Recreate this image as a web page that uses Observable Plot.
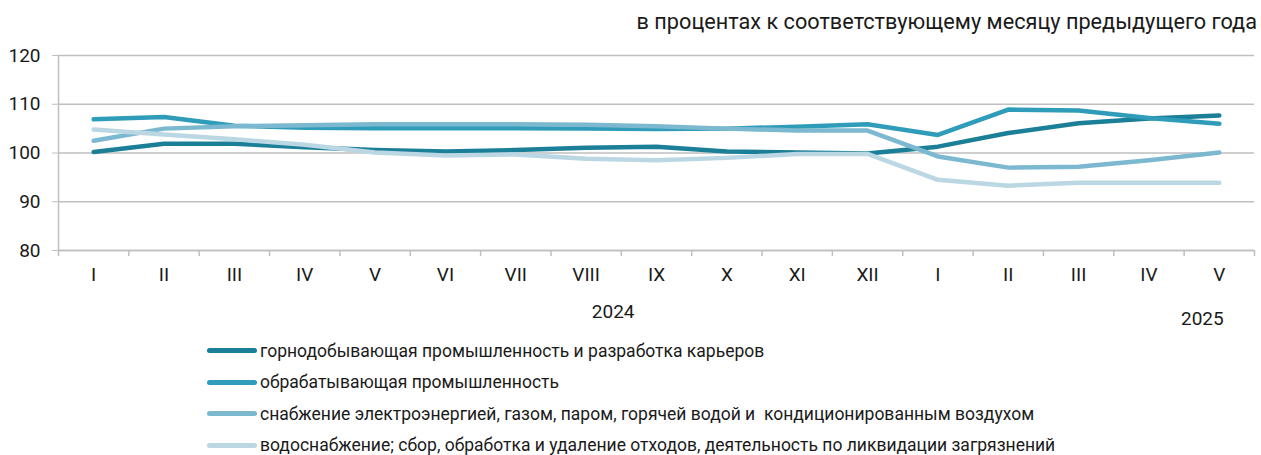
<!DOCTYPE html>
<html><head><meta charset="utf-8">
<script src="https://cdn.jsdelivr.net/npm/d3@7"></script>
<script src="https://cdn.jsdelivr.net/npm/@observablehq/plot@0.6"></script>
<style>
body{margin:0;background:#fff;font-family:Roboto,sans-serif;color:#1a1a1a;width:1261px;overflow:hidden}
#title{height:40px;text-align:right;font-size:21.7px;line-height:43px;padding-right:4px;box-sizing:border-box;white-space:nowrap}
#chart svg{display:block}
#legend{padding-left:207px}
.row{display:flex;align-items:center;height:31.5px;font-size:17.5px;white-space:nowrap}
.sw{width:50px;height:5px;border-radius:3px;margin-right:3px;flex:none}
</style></head><body>
<div id="title">в процентах к соответствующему месяцу предыдущего года</div>
<div id="chart"></div>
<div id="legend"></div>
<script>
const months = ["I","II","III","IV","V","VI","VII","VIII","IX","X","XI","XII","I","II","III","IV","V"];
const yearLabels = ["2024","2025"];
const yTicks = [80,90,100,110,120];
const seriesNames = [
  "горнодобывающая промышленность и разработка карьеров",
  "обрабатывающая промышленность",
  "снабжение электроэнергией, газом, паром, горячей водой и  кондиционированным воздухом",
  "водоснабжение; сбор, обработка и удаление отходов, деятельность по ликвидации загрязнений"
];
const mining = [100.2,101.9,101.9,101.2,100.6,100.3,100.6,101.1,101.3,100.3,100.1,99.9,101.3,104.1,106.1,107.1,107.7];
const manufacturing = [106.9,107.4,105.6,105.2,105.1,105.1,105.1,105.0,104.9,105.0,105.4,105.9,103.7,108.9,108.7,107.2,106.0];
const electricity = [102.5,105.0,105.5,105.7,105.9,105.9,105.9,105.8,105.5,105.0,104.6,104.6,99.3,97.0,97.2,98.5,100.1];
const water = [104.8,103.8,102.8,101.7,100.1,99.5,99.7,98.8,98.5,99.0,99.8,99.8,94.5,93.3,93.9,93.9,93.9];
const seriesValues = [mining, manufacturing, electricity, water];
const colors = ["#1b7f98","#2f9cba","#7cb9d1","#bad7e3"];

const n = months.length;
const data = seriesNames.flatMap((name, s) => seriesValues[s].map((v, i) => ({i, v, name})));
const grid = "#bfbfbf";

const chart = Plot.plot({
  width: 1261, height: 295,
  marginLeft: 58, marginRight: 7, marginTop: 15, marginBottom: 85,
  style: {fontFamily: "Roboto, sans-serif", fontSize: "19px", color: "#1a1a1a", background: "#fff"},
  x: {domain: [-0.5, n - 0.5]},
  y: {domain: [80, 120]},
  color: {domain: seriesNames, range: colors},
  marks: [
    Plot.gridY(yTicks, {stroke: grid, strokeOpacity: 1, strokeWidth: 1.5}),
    Plot.axisY(yTicks, {tickSize: 6, tickPadding: 12, stroke: grid, strokeOpacity: 1, fontSize: 19, label: null}),
    Plot.axisX(d3.range(n + 1).map(i => i - 0.5), {tickSize: 6, tickFormat: () => "", stroke: grid, strokeOpacity: 1, strokeWidth: 1.5, label: null}),
    Plot.axisX(d3.range(n), {tickSize: 0, tickPadding: 17, tickFormat: i => months[i], fontSize: 19, label: null}),
    Plot.ruleY([80], {stroke: grid, strokeWidth: 1.5}),
    Plot.ruleX([-0.5], {stroke: grid, strokeWidth: 1.5}),
    Plot.line(data, {x: "i", y: "v", z: "name", stroke: "name", strokeWidth: 4.5, strokeLinejoin: "round", strokeLinecap: "round"}),
    Plot.text([yearLabels[0]], {x: () => 7, text: d => d, frameAnchor: "bottom", dx: 27, dy: 61, fontSize: 19, lineAnchor: "middle", fill: "#1a1a1a"}),
    Plot.text([yearLabels[1]], {x: () => n - 1, text: d => d, frameAnchor: "bottom", dx: -17, dy: 68, fontSize: 19, lineAnchor: "middle", fill: "#1a1a1a"})
  ]
});
document.getElementById("chart").appendChild(chart);

const legend = document.getElementById("legend");
seriesNames.forEach((name, s) => {
  const row = document.createElement("div");
  row.className = "row";
  const sw = document.createElement("div");
  sw.className = "sw";
  sw.style.background = colors[s];
  const t = document.createElement("span");
  t.textContent = name;
  t.style.whiteSpace = "pre";
  row.appendChild(sw); row.appendChild(t);
  legend.appendChild(row);
});
</script>
</body></html>
